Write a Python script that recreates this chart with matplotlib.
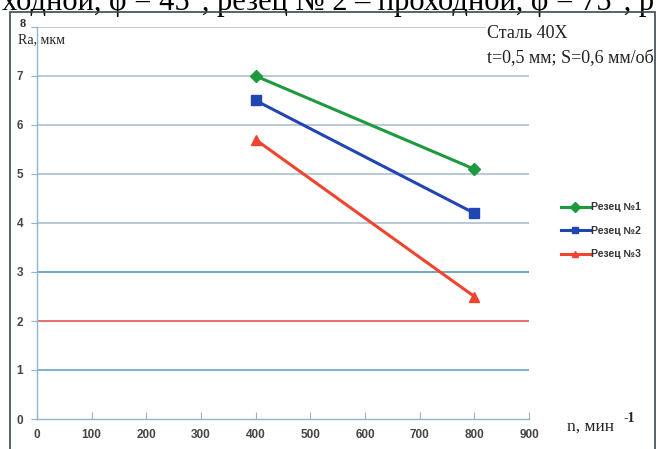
import matplotlib.pyplot as plt
from matplotlib.patches import Rectangle

# data
n_vals = [400, 800]
ra_cutter1 = [7.0, 5.1]
ra_cutter2 = [6.5, 4.2]
ra_cutter3 = [5.7, 2.5]
labels = ['Резец №1', 'Резец №2', 'Резец №3']
x_ticks = list(range(0, 1000, 100))
y_ticks = list(range(0, 9))

W, H = 661, 449
fig = plt.figure(figsize=(W / 100, H / 100), dpi=100)
fig.patch.set_facecolor('white')

ax = fig.add_axes([37 / W, 1 - 419 / H, (529 - 37) / W, (419 - 27) / H])
ax.set_xlim(0, 900)
ax.set_ylim(0, 8)

ax.plot(n_vals, ra_cutter1, color='#1e9a3e', lw=2.2, marker='D', ms=6, label=labels[0], zorder=3)
ax.plot(n_vals, ra_cutter2, color='#2146b4', lw=2.2, marker='s', ms=7, label=labels[1], zorder=3)
ax.plot(n_vals, ra_cutter3, color='#f0442e', lw=2.2, marker='^', ms=7, label=labels[2], zorder=3)

# gridlines (colours vary in the scan)
grid_cols = {1: '#5a9cc0', 2: '#de4a42', 3: '#4d90b3'}
for y in y_ticks[1:]:
    ax.axhline(y, color=grid_cols.get(y, '#a6bccb'), lw=1.1, zorder=1)

for s in ['top', 'right']:
    ax.spines[s].set_visible(False)
ax.spines['left'].set_color('#8fb6cc')
ax.spines['bottom'].set_color('#8fb6cc')
ax.spines['left'].set_linewidth(1)
ax.spines['bottom'].set_linewidth(1)

ax.set_xticks(x_ticks)
ax.set_yticks(y_ticks)
ax.set_yticklabels(['' if y == 8 else str(y) for y in y_ticks])
ax.tick_params(axis='x', direction='in', length=5, color='#8fb6cc', pad=7,
               labelsize=8.5, labelcolor='#454545')
ax.tick_params(axis='y', direction='out', length=4, color='#8fb6cc', pad=6,
               labelsize=8.5, labelcolor='#454545')
for t in ax.get_xticklabels() + ax.get_yticklabels():
    t.set_fontweight('bold')
    t.set_family('Liberation Sans')

leg = ax.legend(loc='center left', bbox_to_anchor=(1.045, 0.48), frameon=False,
                handlelength=2.8, labelspacing=1.3, handletextpad=0.15,
                prop={'family': 'Liberation Sans', 'weight': 'bold', 'size': 7.5})
for h in leg.legend_handles:
    h.set_markersize(5)
for t in leg.get_texts():
    t.set_color('#333333')

serif = 'Liberation Serif'
fig.text(20 / W, 1 - 24 / H, '8', fontsize=9, family=serif, fontweight='bold', color='#333333',
         ha='left', va='center')
fig.text(18 / W, 1 - 40 / H, 'Ra, мкм', fontsize=10, family=serif, color='#222222',
         ha='left', va='center')
fig.text(487 / W, 1 - 33 / H, 'Сталь 40Х', fontsize=13, family=serif, color='#222222',
         ha='left', va='center', bbox=dict(facecolor='white', edgecolor='none', pad=1))
fig.text(487 / W, 1 - 58 / H, 't=0,5 мм; S=0,6 мм/об', fontsize=13, family=serif,
         color='#222222', ha='left', va='center')
fig.text(567 / W, 1 - 427 / H, 'n, мин', fontsize=12.5, family=serif,
         color='#222222', ha='left', va='center')
fig.text(624 / W, 1 - 419 / H, '-1', fontsize=10, family=serif, fontweight='bold',
         color='#222222', ha='left', va='center')

# caption line of the page, cut off at the top
fig.text(2 / W, 1 - 10 / H, 'ходной, φ = 45°, резец № 2 – проходной, φ = 75°, р',
         fontsize=22, family=serif, color='black', ha='left', va='baseline')

# frame of the chart in the scan
fig.patches.append(Rectangle((656 / W, 0), 5 / W, 1 - 12 / H, transform=fig.transFigure,
                             facecolor='white', edgecolor='none', zorder=10))
fig.patches.append(Rectangle((10 / W, -0.05), 645 / W, 1 - 12 / H + 0.05,
                             transform=fig.transFigure, facecolor='none',
                             edgecolor='#3a4a50', lw=1.2, zorder=11))

fig.savefig('out.png', dpi=100)
